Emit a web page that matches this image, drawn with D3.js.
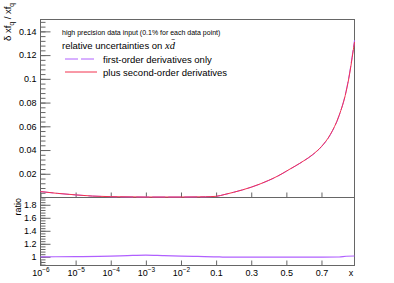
<!DOCTYPE html>
<html>
<head>
<meta charset="utf-8">
<script src="https://cdn.jsdelivr.net/npm/d3@7"></script>
<style>
  body { margin: 0; background: #fff; }
  text { font-family: "Liberation Sans", Arial, Helvetica, sans-serif; fill: #000; }
</style>
</head>
<body>
<script>
// values
var xs = [1e-6, 3e-6, 1e-5, 3e-5, 1e-4, 1e-3, 1e-2, 0.05, 0.1, 0.15, 0.2, 0.25, 0.3, 0.35, 0.4, 0.45,
          0.5, 0.55, 0.6, 0.65, 0.7, 0.75, 0.8, 0.84, 0.86, 0.875, 0.888];
var second_order = [0.0050, 0.0035, 0.0022, 0.0012, 0.0007, 0.0004, 0.0004, 0.0006, 0.0010, 0.0026,
                    0.0044, 0.0064, 0.0087, 0.0114, 0.0145, 0.0180, 0.0222, 0.0265, 0.0310, 0.0362,
                    0.0430, 0.0530, 0.0690, 0.0890, 0.1040, 0.1180, 0.1310];
var first_order = [0.0050, 0.0035, 0.0022, 0.0012, 0.0007, 0.0004, 0.0004, 0.0006, 0.0010, 0.0026,
                   0.0044, 0.0064, 0.0087, 0.0113, 0.0144, 0.0179, 0.0221, 0.0264, 0.0309, 0.0360,
                   0.0428, 0.0528, 0.0688, 0.0895, 0.1048, 0.1192, 0.1325];

var ratio_x = [1e-6, 1e-5, 1e-4, 3e-4, 1e-3, 3e-3, 1e-2, 3e-2, 0.1, 0.15, 0.3, 0.5, 0.7, 0.8, 0.84, 0.888];
var ratio_y = [1.000, 1.003, 1.010, 1.018, 1.025, 1.018, 1.010, 1.005, 1.000, 0.995, 0.995, 0.995, 0.995,
               0.997, 1.008, 1.012];

var x_ticks = [1e-6, 1e-5, 1e-4, 1e-3, 1e-2, 0.1, 0.3, 0.5, 0.7];
var x_tick_labels = ["10|-6", "10|-5", "10|-4", "10|-3", "10|-2", "0.1", "0.3", "0.5", "0.7"];
var y_ticks = [0.02, 0.04, 0.06, 0.08, 0.1, 0.12, 0.14];
var r_ticks = [1, 1.2, 1.4, 1.6, 1.8];

var first_col = "#b060ff",
    second_col = "#f2334f",
    frame_col = "#666";

// log axis below 0.1, linear (0.2 per step) above
function tx(x) {
    return x <= 0.1 ? Math.log10(x) + 6 : 5 + (x - 0.1) / 0.2;
}

var left = 40.5, right = 354.5,
    top_y0 = 19.5, top_y1 = 197.5,
    bot_y1 = 265.5;

var xScale = d3.scaleLinear()
        .domain([0, tx(0.888)])
        .range([left, right]);

var yScale = d3.scaleLinear()
        .domain([0, 0.15])
        .range([top_y1, top_y0]);

var rScale = d3.scaleLinear()
        .domain([0.866, 1.912])
        .range([bot_y1, top_y1]);

var svg = d3.select("body").append("svg")
            .attr("width", 394)
            .attr("height", 283);

// frames
svg.append("rect")
    .attr("x", left).attr("y", top_y0)
    .attr("width", right - left).attr("height", top_y1 - top_y0)
    .attr("fill", "none").attr("stroke", frame_col);
svg.append("rect")
    .attr("x", left).attr("y", top_y1)
    .attr("width", right - left).attr("height", bot_y1 - top_y1)
    .attr("fill", "none").attr("stroke", frame_col);

function style_axis(g) {
    g.select(".domain").remove();
    g.selectAll("line").attr("stroke", frame_col);
    g.selectAll("text")
        .style("font-family", "'Liberation Sans', Arial, sans-serif")
        .attr("fill", "#000");
}

// y axis, top panel
var minor_top = d3.range(0, 0.1501, 0.004);
svg.append("g")
    .attr("transform", "translate(" + left + ",0)")
    .call(d3.axisLeft(yScale).tickValues(minor_top).tickSize(-5).tickFormat(""))
    .call(style_axis);
svg.append("g")
    .attr("transform", "translate(" + left + ",0)")
    .call(d3.axisLeft(yScale).tickValues(y_ticks).tickSize(-10).tickPadding(4)
        .tickFormat(function(d) { return d3.format("")(+d.toFixed(2)); }))
    .call(style_axis)
    .selectAll("text").attr("font-size", 9);

// y axis, ratio panel
var minor_bot = d3.range(0.88, 1.91, 0.04);
svg.append("g")
    .attr("transform", "translate(" + left + ",0)")
    .call(d3.axisLeft(rScale).tickValues(minor_bot).tickSize(-5).tickFormat(""))
    .call(style_axis);
svg.append("g")
    .attr("transform", "translate(" + left + ",0)")
    .call(d3.axisLeft(rScale).tickValues(r_ticks).tickSize(-10).tickPadding(4)
        .tickFormat(function(d) { return d3.format("")(+d.toFixed(1)); }))
    .call(style_axis)
    .selectAll("text").attr("font-size", 9);

// x ticks on both panels (pointing inward)
svg.append("g")
    .attr("transform", "translate(0," + top_y1 + ")")
    .call(d3.axisBottom(xScale).tickValues(x_ticks.map(tx)).tickSize(-5).tickFormat(""))
    .call(style_axis);
var xb = svg.append("g")
    .attr("transform", "translate(0," + bot_y1 + ")")
    .call(d3.axisBottom(xScale).tickValues(x_ticks.map(tx)).tickSize(-5).tickPadding(0).tickFormat(""))
    .call(style_axis);

// x tick labels with superscripts
xb.selectAll(".tick").each(function(d, i) {
    var parts = x_tick_labels[i].split("|");
    var t = d3.select(this).select("text")
        .attr("y", 10.5)
        .attr("dy", null)
        .attr("font-size", 9)
        .attr("text-anchor", "middle");
    t.text(null);
    t.append("tspan").text(parts[0]);
    if (parts.length > 1) {
        t.append("tspan")
            .attr("dy", -4.5)
            .attr("font-size", 6.5)
            .text(parts[1].replace("-", "\u2212"));
    }
});

// x axis title
svg.append("text")
    .attr("x", 351).attr("y", 276)
    .attr("font-size", 9)
    .attr("text-anchor", "middle")
    .text("x");

// curves
var line = d3.line()
    .x(function(d) { return xScale(tx(d[0])); })
    .y(function(d) { return yScale(d[1]); })
    .curve(d3.curveMonotoneX);

svg.append("path")
    .datum(d3.zip(xs, first_order))
    .attr("d", line)
    .attr("fill", "none")
    .attr("stroke", first_col)
    .attr("stroke-dasharray", "13,3")
    .attr("stroke-width", 1);

svg.append("path")
    .datum(d3.zip(xs, second_order))
    .attr("d", line)
    .attr("fill", "none")
    .attr("stroke", second_col)
    .attr("stroke-width", 1);

var rline = d3.line()
    .x(function(d) { return xScale(tx(d[0])); })
    .y(function(d) { return rScale(d[1]); })
    .curve(d3.curveMonotoneX);

svg.append("path")
    .datum(d3.zip(ratio_x, ratio_y))
    .attr("d", rline)
    .attr("fill", "none")
    .attr("stroke", first_col)
    .attr("stroke-width", 1.2);

// y titles
var yt = svg.append("text")
    .attr("transform", "translate(11,3) rotate(-90)")
    .attr("text-anchor", "end")
    .attr("font-size", 9.5);
yt.append("tspan").text("\u03b4 xf");
yt.append("tspan").attr("font-size", 6.5).attr("dy", 2.5).text("q");
yt.append("tspan").attr("dy", -2.5).text(" / xf");
yt.append("tspan").attr("font-size", 6.5).attr("dy", 2.5).text("q");

svg.append("text")
    .attr("transform", "translate(21,198) rotate(-90)")
    .attr("text-anchor", "end")
    .attr("font-size", 9)
    .text("ratio");

// legend
svg.append("text")
    .attr("x", 62).attr("y", 35)
    .attr("font-size", 7)
    .text("high precision data input (0.1% for each data point)");

var lt = svg.append("text")
    .attr("x", 62).attr("y", 48.5)
    .attr("font-size", 9.5);
lt.append("tspan").text("relative uncertainties on ");
lt.append("tspan")
    .style("font-family", "'Liberation Serif', 'Times New Roman', serif")
    .style("font-style", "italic")
    .attr("font-size", 10.5)
    .text("xd\u0304");

var legend = [
    { label: "first-order derivatives only", col: first_col, dash: "13,3", y: 59 },
    { label: "plus second-order derivatives", col: second_col, dash: "none", y: 72 }
];

legend.forEach(function(d) {
    svg.append("line")
        .attr("x1", 65).attr("x2", 97)
        .attr("y1", d.y).attr("y2", d.y)
        .style("stroke", d.col)
        .style("stroke-width", 1)
        .style("stroke-dasharray", d.dash);
    svg.append("text")
        .attr("x", 103).attr("y", d.y + 3.6)
        .attr("font-size", 9.5)
        .text(d.label);
});
</script>
</body>
</html>
